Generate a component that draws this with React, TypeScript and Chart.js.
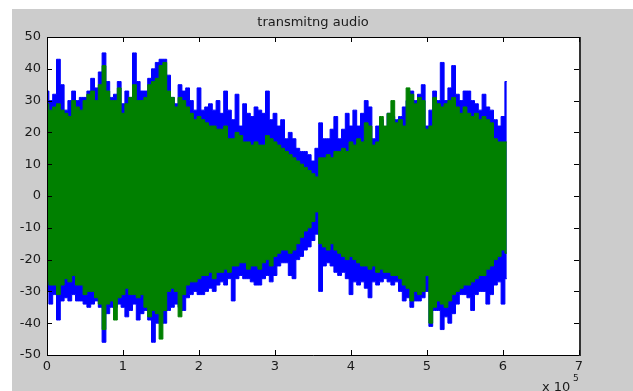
import React, { useEffect, useRef } from "react";
import { Chart, registerables } from "chart.js";

Chart.register(...registerables);

// sample spacing of the envelope readings (samples)
const SAMPLE_STEP = 5000;

const titleText = "transmitng audio";
const xTickValues = [0, 100000, 200000, 300000, 400000, 500000, 600000, 700000];
const xTickLabels = ["0", "1", "2", "3", "4", "5", "6", "7"];
const yTickValues = [-50, -40, -30, -20, -10, 0, 10, 20, 30, 40, 50];
const xExponentLabel = "x 10";
const xExponent = "5";

// noisy (blue) signal: upper and lower envelope, read every 5000 samples
const blueTop = [
  33, 30, 32, 43, 35, 27, 30, 33, 30, 31,
  31, 33, 37, 34, 39, 45, 36, 31, 32, 36,
  29, 33, 31, 45, 36, 33, 33, 37, 40, 42,
  43, 43, 38, 31, 29, 35, 33, 34, 30, 27,
  34, 27, 28, 29, 27, 30, 26, 33, 27, 24,
  32, 22, 29, 26, 25, 28, 27, 26, 33, 24,
  26, 22, 24, 18, 20, 18, 15, 14, 14, 13,
  11, 15, 23, 18, 18, 21, 25, 18, 21, 26,
  22, 27, 22, 26, 30, 28, 18, 22, 24, 21,
  26, 25, 24, 25, 28, 30, 33, 30, 32, 35,
  22, 27, 33, 30, 42, 30, 34, 41, 32, 30,
  33, 33, 30, 29, 27, 32, 28, 27, 24, 22,
  25, 36,
];
const blueBottom = [
  -30, -34, -31, -39, -33, -32, -33, -31, -33, -33,
  -34, -35, -34, -33, -35, -46, -37, -35, -35, -34,
  -35, -38, -36, -34, -39, -37, -36, -39, -46, -40,
  -38, -40, -36, -35, -34, -35, -36, -32, -31, -30,
  -31, -31, -30, -29, -30, -28, -27, -28, -26, -33,
  -26, -25, -26, -26, -27, -28, -28, -26, -25, -27,
  -25, -22, -21, -21, -25, -26, -20, -19, -17, -16,
  -14, -12, -30, -22, -21, -22, -24, -25, -24, -26,
  -31, -27, -28, -27, -29, -32, -27, -28, -27, -26,
  -27, -28, -27, -30, -33, -32, -35, -33, -33, -32,
  -30, -41, -36, -36, -42, -38, -40, -37, -34, -31,
  -31, -32, -36, -31, -30, -30, -34, -31, -28, -27,
  -34, -26,
];
// clean (green) signal: upper and lower envelope
const greenTop = [
  29, 27, 28, 29, 27, 26, 25, 30, 28, 27,
  30, 32, 33, 30, 35, 41, 33, 30, 30, 34,
  26, 29, 31, 35, 30, 30, 31, 35, 36, 37,
  41, 42, 33, 31, 28, 31, 30, 28, 26, 24,
  25, 24, 23, 22, 22, 21, 21, 22, 18, 18,
  20, 19, 17, 17, 16, 17, 16, 16, 19, 18,
  17, 16, 15, 14, 13, 12, 11, 10, 9, 8,
  7, 6, 12, 12, 13, 12, 14, 14, 15, 14,
  17, 16, 18, 17, 23, 22, 16, 17, 25, 22,
  26, 30, 23, 24, 22, 34, 32, 29, 31, 30,
  21, 22, 31, 29, 28, 29, 30, 31, 28, 26,
  28, 26, 25, 26, 24, 25, 24, 23, 18, 17,
  17, 17,
];
const greenBottom = [
  -27, -28, -28, -31, -28, -26, -27, -25, -28, -28,
  -31, -30, -30, -32, -34, -42, -34, -33, -39, -32,
  -31, -29, -31, -31, -32, -31, -35, -38, -36, -37,
  -45, -36, -30, -29, -30, -38, -31, -28, -27, -27,
  -26, -25, -25, -24, -26, -24, -24, -23, -24, -22,
  -22, -21, -21, -23, -22, -22, -23, -21, -20, -22,
  -19, -18, -17, -17, -18, -17, -15, -13, -11, -10,
  -8, -5, -15, -16, -17, -15, -17, -18, -19, -20,
  -19, -20, -21, -22, -22, -23, -22, -24, -23, -24,
  -24, -25, -25, -26, -28, -29, -33, -30, -31, -30,
  -25, -40, -35, -33, -34, -35, -33, -31, -30, -29,
  -28, -28, -27, -26, -25, -25, -23, -22, -20, -19,
  -17, -18,
];

const FONT = "'DejaVu Sans', sans-serif";
const TEXT_COLOR = "#1a1a1a";

export default function App() {
  const ref = useRef<HTMLCanvasElement>(null);

  useEffect(() => {
    if (!ref.current) return;
    const toPts = (arr: number[]) => arr.map((y, i) => ({ x: i * SAMPLE_STEP, y }));

    const bgPlugin = {
      id: "matlabBg",
      beforeDraw(chart: any) {
        const { ctx, chartArea: a, width, height } = chart;
        ctx.save();
        ctx.fillStyle = "#ffffff";
        ctx.fillRect(0, 0, width, height);
        ctx.fillStyle = "#cccccc";
        ctx.fillRect(12, 9, width - 12, height - 9);
        ctx.fillStyle = "#ffffff";
        ctx.fillRect(a.left, a.top, a.right - a.left, a.bottom - a.top);
        ctx.restore();
      },
    };

    const framePlugin = {
      id: "matlabFrame",
      afterDraw(chart: any) {
        const { ctx, chartArea: a } = chart;
        const xs = chart.scales.x;
        const ys = chart.scales.y;
        ctx.save();
        ctx.strokeStyle = "#000000";
        ctx.lineWidth = 1;
        ctx.beginPath();
        ctx.moveTo(a.left + 0.5, a.top + 0.5);
        ctx.lineTo(a.left + 0.5, a.bottom + 0.5);
        ctx.lineTo(a.right, a.bottom + 0.5);
        ctx.moveTo(a.left, a.top + 0.5);
        ctx.lineTo(a.right, a.top + 0.5);
        ctx.stroke();
        ctx.strokeStyle = "#333333";
        ctx.lineWidth = 2;
        ctx.beginPath();
        ctx.moveTo(a.right + 1, a.top);
        ctx.lineTo(a.right + 1, a.bottom + 1);
        ctx.stroke();
        // inward ticks
        ctx.strokeStyle = "#000000";
        ctx.lineWidth = 1;
        ctx.beginPath();
        const tl = 5;
        xTickValues.forEach((v) => {
          const px = Math.round(xs.getPixelForValue(v)) + 0.5;
          ctx.moveTo(px, a.bottom);
          ctx.lineTo(px, a.bottom - tl);
          ctx.moveTo(px, a.top);
          ctx.lineTo(px, a.top + tl);
        });
        yTickValues.forEach((v) => {
          const py = Math.round(ys.getPixelForValue(v)) + 0.5;
          ctx.moveTo(a.left, py);
          ctx.lineTo(a.left + tl, py);
          ctx.moveTo(a.right, py);
          ctx.lineTo(a.right - tl, py);
        });
        ctx.stroke();
        // title
        ctx.fillStyle = TEXT_COLOR;
        ctx.font = `13px ${FONT}`;
        ctx.textAlign = "center";
        ctx.textBaseline = "middle";
        ctx.fillText(titleText, (a.left + a.right) / 2, 23);
        // exponent label
        ctx.textAlign = "left";
        ctx.textBaseline = "top";
        ctx.font = `13px ${FONT}`;
        ctx.fillText(xExponentLabel, 542, 381);
        ctx.font = `9px ${FONT}`;
        ctx.fillText(xExponent, 573, 374);
        ctx.restore();
      },
    };

    const common = { borderWidth: 1, pointRadius: 0, stepped: "middle" as const };

    const chart = new Chart(ref.current, {
      type: "line",
      data: {
        datasets: [
          { ...common, data: toPts(greenTop), borderColor: "#008000", backgroundColor: "#008000", fill: "+1" },
          { ...common, data: toPts(greenBottom), borderColor: "#008000", backgroundColor: "#008000", fill: false },
          { ...common, data: toPts(blueTop), borderColor: "#0000ff", backgroundColor: "#0000ff", fill: "+1" },
          { ...common, data: toPts(blueBottom), borderColor: "#0000ff", backgroundColor: "#0000ff", fill: false },
        ],
      },
      options: {
        animation: false,
        responsive: false,
        maintainAspectRatio: false,
        layout: { padding: { left: 0, top: 37, right: 54, bottom: 0 } },
        plugins: {
          legend: { display: false },
          tooltip: { enabled: false },
          title: { display: false },
        },
        scales: {
          x: {
            type: "linear",
            min: 0,
            max: 700000,
            grid: { display: false, drawTicks: false },
            border: { display: false },
            afterBuildTicks: (s: any) => {
              s.ticks = xTickValues.map((v) => ({ value: v }));
            },
            ticks: {
              autoSkip: false,
              maxRotation: 0,
              padding: 4,
              color: TEXT_COLOR,
              font: { family: FONT, size: 13 },
              callback: (_v: any, i: number) => xTickLabels[i],
            },
            afterFit: (s: any) => {
              s.height = 36;
            },
          },
          y: {
            type: "linear",
            min: -50,
            max: 50,
            grid: { display: false, drawTicks: false },
            border: { display: false },
            afterBuildTicks: (s: any) => {
              s.ticks = yTickValues.map((v) => ({ value: v }));
            },
            ticks: {
              autoSkip: false,
              padding: 6,
              color: TEXT_COLOR,
              font: { family: FONT, size: 13 },
              callback: (v: any) => String(v),
            },
            afterFit: (s: any) => {
              s.width = 47;
            },
          },
        },
      },
      plugins: [bgPlugin, framePlugin],
    });
    return () => chart.destroy();
  }, []);

  return (
    <div style={{ position: "fixed", left: 0, top: 0, width: 633, height: 391 }}>
      <canvas ref={ref} width={633} height={391} style={{ display: "block", width: 633, height: 391 }} />
    </div>
  );
}
